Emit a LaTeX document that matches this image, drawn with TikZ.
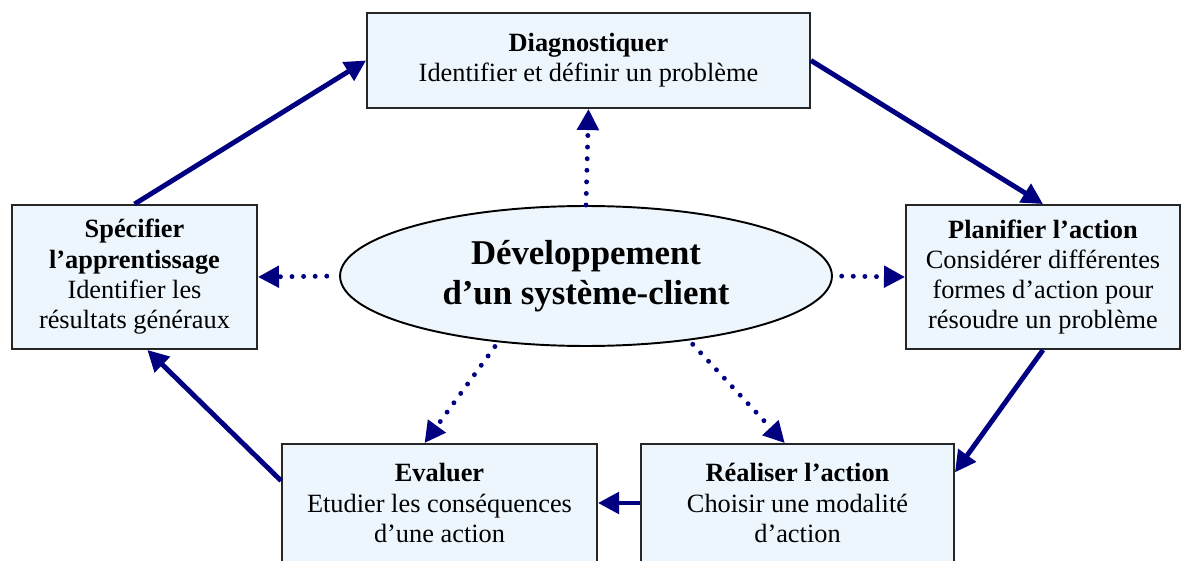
\documentclass[tikz,border=0pt]{standalone}
\usepackage{fontspec}
\setmainfont{Liberation Serif}
\usetikzlibrary{shapes.geometric,arrows.meta}
\definecolor{navy}{HTML}{000080}
\definecolor{pale}{HTML}{EEF6FD}
\begin{document}
\begin{tikzpicture}[x=0.02cm,y=-0.02cm,
		etape/.style={draw=black!85,line width=1.1pt,fill=pale,align=center,inner sep=2pt,font=\fontsize{15}{17.25}\selectfont},
		fleche/.style={navy,line width=2.8pt,-{Triangle[length=12pt,width=12pt]}},
		lien/.style={navy,line width=2.8pt,line cap=round,dash pattern=on 0pt off 6.6pt,-{Triangle[length=12pt,width=12pt]}}]
		\useasboundingbox (0,0) rectangle (1181,561);
		% les cinq etapes
		\node[etape,minimum width=8.86cm,minimum height=1.9cm] (diag) at (588.5,60.5) {\textbf{Diagnostiquer}\\Identifier et définir un problème};
		\node[etape,minimum width=4.9cm,minimum height=2.88cm] (spec) at (134.5,277) {\textbf{Spécifier}\\\textbf{l’apprentissage}\\Identifier les\\résultats généraux};
		\node[etape,minimum width=5.48cm,minimum height=2.88cm] (plan) at (1043,277) {\textbf{Planifier l’action}\\Considérer différentes\\formes d’action pour\\résoudre un problème};
		\node[etape,minimum width=6.3cm,minimum height=2.36cm] (eval) at (439.5,503) {\textbf{Evaluer}\\Etudier les conséquences\\d’une action};
		\node[etape,minimum width=6.26cm,minimum height=2.36cm] (real) at (797.5,503) {\textbf{Réaliser l’action}\\Choisir une modalité\\d’action};
		% le centre
		\node[ellipse,draw=black,line width=1.1pt,fill=pale,inner sep=0pt,minimum width=9.84cm,minimum height=2.8cm,align=center,font=\bfseries\fontsize{19.8}{23}\selectfont] (dev) at (586,276) {Développement\\d’un système-client};
		% le cycle
		\draw [fleche] (diag.east) -- (plan.north);
		\draw [fleche] (plan.south) -- (real.11);
		\draw [fleche] (real.west) -- (eval.east);
		\draw [fleche] (eval.172) -- (spec.-80);
		\draw [fleche] (spec.north) -- (diag.west);
		% du centre vers les etapes
		\draw [lien] (dev.north) -- (diag.south);
		\draw [lien,shorten <=7pt] (dev.west) -- (spec.east);
		\draw [lien,shorten <=5pt] (dev.east) -- (plan.west);
		\draw [lien,shorten <=3pt] (dev.217) -- (eval.104);
		\draw [lien,shorten <=3pt] (dev.-32) -- (real.102);
	\end{tikzpicture}
\end{document}
